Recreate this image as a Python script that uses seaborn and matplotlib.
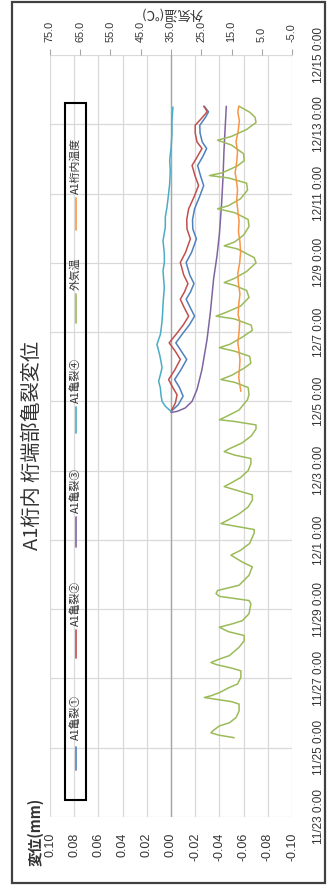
import matplotlib
matplotlib.use("Agg")
import matplotlib.pyplot as plt
import numpy as np
import pandas as pd
import seaborn as sns
from matplotlib.patches import Rectangle
from matplotlib.lines import Line2D

sns.set_theme(style="white")
plt.rcParams["font.family"] = ["Liberation Sans", "Noto Sans CJK JP", "DejaVu Sans"]

# ---- data (time in days from 11/23 0:00) ----
crack1_days = [11.71, 11.90, 12.15, 12.40, 12.63, 12.90, 13.21, 13.45, 13.69, 13.95, 14.20, 14.46,
               14.70, 14.95, 15.15, 15.40, 15.65, 16.01, 16.30, 16.69, 16.98, 17.25, 17.56, 17.90,
               18.23, 18.50, 18.81, 19.05, 19.30, 19.49, 19.75, 19.97, 20.20, 20.36, 20.45, 20.52]
crack1_mm = [0.000, -0.0060, -0.0100, -0.0070, -0.0030, -0.0080, -0.0130, -0.0085, -0.0040, -0.0095,
             -0.0150, -0.0195, -0.0160, -0.0125, -0.0160, -0.0190, -0.0155, -0.0125, -0.0170, -0.0210,
             -0.0180, -0.0178, -0.0195, -0.0235, -0.0270, -0.0245, -0.0220, -0.0260, -0.0295, -0.0258,
             -0.0240, -0.0238, -0.0285, -0.0310, -0.0290, -0.0275]

crack2_days = [11.71, 11.95, 12.19, 12.40, 12.63, 12.90, 13.21, 13.45, 13.69, 13.95, 14.20, 14.46,
               14.70, 14.95, 15.15, 15.40, 15.65, 16.01, 16.30, 16.69, 16.98, 17.25, 17.56, 17.90,
               18.23, 18.50, 18.81, 19.05, 19.30, 19.49, 19.75, 19.97, 20.20, 20.36, 20.45, 20.52]
crack2_mm = [0.000, -0.0036, -0.0050, -0.0015, 0.0020, -0.0030, -0.0077, -0.0035, 0.0015, -0.0045,
             -0.0100, -0.0146, -0.0110, -0.0077, -0.0110, -0.0140, -0.0105, -0.0077, -0.0120, -0.0160,
             -0.0132, -0.0130, -0.0146, -0.0190, -0.0228, -0.0200, -0.0174, -0.0215, -0.0256, -0.0215,
             -0.0200, -0.0200, -0.0260, -0.0298, -0.0285, -0.0270]

crack3_days = [11.68, 11.71, 11.81, 12.00, 12.34, 12.92, 13.79, 14.56, 15.53, 16.20, 16.83, 17.70,
               18.48, 19.25, 19.92, 20.52]
crack3_mm = [0.000, -0.0050, -0.0118, -0.0174, -0.0215, -0.0256, -0.0298, -0.0325, -0.0352, -0.0380,
             -0.0400, -0.0418, -0.0430, -0.0438, -0.0448, -0.0457]

crack4_days = [11.71, 11.86, 12.00, 12.19, 12.39, 12.58, 12.77, 12.97, 13.16, 13.35, 13.64, 13.79,
               13.93, 14.13, 14.32, 14.56, 14.80, 15.04, 15.29, 15.53, 15.77, 16.01, 16.25, 16.64,
               17.03, 17.32, 17.61, 17.99, 18.28, 18.67, 18.96, 19.34, 19.73, 20.12, 20.50]
crack4_mm = [0.000, 0.0047, 0.0074, 0.0083, 0.0088, 0.0102, 0.0088, 0.0074, 0.0083, 0.0094, 0.0116,
             0.0102, 0.0088, 0.0080, 0.0074, 0.0069, 0.0066, 0.0061, 0.0055, 0.0061, 0.0066, 0.0055,
             0.0055, 0.0066, 0.0047, 0.0047, 0.0033, 0.0020, 0.0011, 0.0006, 0.0011, -0.0001,
             -0.0008, -0.0008, -0.0016]

air_days = [2.29, 2.36, 2.43, 2.50, 2.63, 2.72, 2.87, 3.06, 3.26, 3.33, 3.45, 3.50, 3.59, 3.74, 3.84,
            4.03, 4.22, 4.30, 4.40, 4.46, 4.56, 4.66, 4.90, 5.09, 5.24, 5.35, 5.48, 5.58, 5.67, 5.87,
            6.16, 6.25, 6.37, 6.45, 6.54, 6.69, 6.98, 7.12, 7.22, 7.36, 7.56, 7.70, 7.90, 8.20, 8.30,
            8.40, 8.47, 8.58, 8.75, 8.95, 9.15, 9.30, 9.45, 9.54, 9.65, 9.80, 10.00, 10.20, 10.35,
            10.45, 10.55, 10.62, 10.80, 11.00, 11.20, 11.32, 11.42, 11.47, 11.55, 11.75, 12.05, 12.20,
            12.40, 12.55, 12.63, 12.75, 12.95, 13.10, 13.30, 13.45, 13.55, 13.65, 13.85, 14.05, 14.20,
            14.38, 14.46, 14.58, 14.75, 15.00, 15.20, 15.35, 15.43, 15.55, 15.75, 16.00, 16.15, 16.40,
            16.49, 16.60, 16.80, 17.05, 17.25, 17.45, 17.56, 17.65, 17.85, 18.10, 18.30, 18.45, 18.52,
            18.60, 18.80, 18.95, 19.15, 19.40, 19.54, 19.65, 19.85, 20.05, 20.20, 20.35, 20.52]
air_temp = [14.1, 19.0, 21.8, 21.0, 19.0, 15.7, 13.5, 12.5, 12.5, 15.0, 24.0, 21.8, 19.0, 15.7, 13.0,
            11.9, 11.9, 15.0, 20.0, 21.8, 19.0, 15.7, 12.5, 10.8, 10.8, 16.0, 19.0, 14.6, 11.4, 9.2,
            8.6, 9.2, 19.0, 20.1, 19.6, 12.5, 9.2, 8.6, 8.1, 11.4, 15.2, 12.0, 9.0, 7.5, 7.5,
            14.0, 18.5, 16.0, 12.5, 9.5, 8.1, 8.1, 14.0, 17.4, 15.0, 12.0, 9.5, 8.6, 8.6,
            14.0, 17.4, 16.0, 11.5, 8.5, 6.9, 6.9, 14.0, 19.0, 17.0, 12.5, 9.7, 9.2,
            9.5, 14.0, 18.5, 15.0, 11.0, 8.6, 9.0, 14.0, 19.0, 15.5, 11.5, 8.1, 8.5,
            14.0, 20.1, 16.5, 12.0, 9.2, 10.0, 14.0, 17.4, 14.0, 10.0, 6.9, 7.5, 13.0,
            17.4, 14.0, 11.0, 9.2, 9.5, 14.0, 19.6, 16.0, 12.0, 9.7, 10.0, 16.0, 22.3,
            18.0, 13.0, 10.8, 11.0, 15.0, 19.6, 15.0, 10.0, 6.9, 7.2, 9.0, 12.5]

girder_days = [12.29, 12.50, 12.70, 12.90, 13.20, 13.50, 13.70, 14.00, 14.30, 14.50, 14.80, 15.10,
               15.40, 15.70, 16.00, 16.30, 16.60, 16.90, 17.20, 17.50, 17.80, 18.10, 18.40, 18.60,
               18.90, 19.20, 19.50, 19.80, 20.10, 20.35, 20.52]
girder_temp = [11.9, 12.3, 12.6, 12.4, 12.2, 12.6, 12.9, 12.5, 12.3, 12.8, 12.6, 12.2, 12.7, 12.9,
               12.3, 12.0, 12.2, 12.7, 12.5, 12.9, 13.3, 13.0, 13.4, 13.8, 13.3, 13.0, 13.5, 12.8,
               12.4, 12.9, 12.6]

series_names = ["A1亀裂①", "A1亀裂②", "A1亀裂③", "A1亀裂④", "外気温", "A1桁内温度"]
series_colors = ["#4F81BD", "#C0504D", "#8064A2", "#4BACC6", "#9BBB59", "#F79646"]

disp_ticks = [0.10, 0.08, 0.06, 0.04, 0.02, 0.00, -0.02, -0.04, -0.06, -0.08, -0.10]
disp_labels = ["0.10", "0.08", "0.06", "0.04", "0.02", "0.00", "-0.02", "-0.04", "-0.06", "-0.08", "-0.10"]
temp_ticks = [75, 65, 55, 45, 35, 25, 15, 5, -5]
temp_labels = ["75.0", "65.0", "55.0", "45.0", "35.0", "25.0", "15.0", "5.0", "-5.0"]
date_ticks = [0, 2, 4, 6, 8, 10, 12, 14, 16, 18, 20, 22]
date_labels = ["11/23 0:00", "11/25 0:00", "11/27 0:00", "11/29 0:00", "12/1 0:00", "12/3 0:00",
               "12/5 0:00", "12/7 0:00", "12/9 0:00", "12/11 0:00", "12/13 0:00", "12/15 0:00"]

palette = dict(zip(series_names, series_colors))

disp_df = pd.concat([
    pd.DataFrame({"day": d, "value": v, "series": n})
    for d, v, n in [(crack1_days, crack1_mm, series_names[0]),
                    (crack2_days, crack2_mm, series_names[1]),
                    (crack3_days, crack3_mm, series_names[2]),
                    (crack4_days, crack4_mm, series_names[3])]
], ignore_index=True)
temp_df = pd.concat([
    pd.DataFrame({"day": air_days, "value": air_temp, "series": series_names[4]}),
    pd.DataFrame({"day": girder_days, "value": girder_temp, "series": series_names[5]}),
], ignore_index=True)

# ---- figure (chart laid out in portrait orientation) ----
W, H = 331, 891
fig = plt.figure(figsize=(W / 100, H / 100), dpi=100)
fig.patch.set_facecolor("white")

def fx(px):
    return px / W

def fy(py):
    return 1 - py / H

ax = fig.add_axes([fx(50), fy(817), (292 - 50) / W, (817 - 55) / H])
txt_col = "#333333"

sns.lineplot(data=disp_df, x="value", y="day", hue="series", palette=palette, orient="y",
             estimator=None, sort=False, legend=False, linewidth=1.1, ax=ax)

ax2 = ax.twiny()
sns.lineplot(data=temp_df, x="value", y="day", hue="series", palette=palette, orient="y",
             estimator=None, sort=False, legend=False, linewidth=1.1, ax=ax2)

# primary axes: displacement (horizontal) and date (vertical, labels on the right)
ax.set_xlim(0.10, -0.10)
ax.set_ylim(0, 22)
ax.set_xticks(disp_ticks, labels=disp_labels, rotation=90)
ax.set_yticks(date_ticks, labels=date_labels, rotation=90, va="center")
ax.yaxis.tick_right()
ax.grid(True, color="#D9D9D9", linewidth=0.9)
ax.set_axisbelow(True)
ax.axvline(0, color="#A6A6A6", linewidth=1.0, zorder=1)
ax.tick_params(axis="x", bottom=False, top=False, labelbottom=True, labeltop=False, pad=5,
               labelsize=9, colors=txt_col)
ax.tick_params(axis="y", left=False, right=False, labelleft=False, labelright=True, pad=9,
               labelsize=8.5, colors=txt_col)
ax.set_xlabel("")
ax.set_ylabel("")
for s in ax.spines.values():
    s.set_visible(False)

# secondary axis: temperature along the top
ax2.set_xlim(75, -5)
ax2.set_ylim(0, 22)
ax2.set_xticks(temp_ticks, labels=temp_labels, rotation=90)
ax2.tick_params(axis="x", top=True, bottom=False, labeltop=True, labelbottom=False,
                direction="out", length=4, width=0.8, color="#A6A6A6", labelcolor=txt_col,
                pad=5, labelsize=7.8)
ax2.tick_params(axis="y", left=False, right=False, labelleft=False, labelright=False)
ax2.grid(False)
ax2.set_xlabel("")
ax2.set_ylabel("")
for s in ax2.spines.values():
    s.set_visible(False)

# ---- titles ----
jp = ["Noto Sans CJK JP", "DejaVu Sans"]
fig.text(fx(32), fy(446), "A1桁内 桁端部亀裂変位", rotation=90, ha="center", va="center",
         fontsize=14.5, color=txt_col, family=jp)
fig.text(fx(35), fy(832), "変位(mm)", rotation=90, ha="center", va="center",
         fontsize=10.5, fontweight="bold", color=txt_col, family=jp)
fig.text(fx(172), fy(13), "外気温(℃)", rotation=180, ha="center", va="center",
         fontsize=9.5, color=txt_col, family=jp)

# ---- legend box ----
fig.add_artist(Rectangle((fx(65), fy(800)), (86 - 65) / W, (800 - 103) / H,
                         transform=fig.transFigure, fill=False, edgecolor="black", linewidth=1.5))
legend_slots = [(770, 747, 740), (658, 630, 626), (547, 517, 513),
                (433, 407, 403), (323, 294, 290), (230, 198, 194)]
for (l0, l1, t0), name, col in zip(legend_slots, series_names, series_colors):
    fig.add_artist(Line2D([fx(75.5), fx(75.5)], [fy(l0), fy(l1)], transform=fig.transFigure,
                          color=col, linewidth=1.2))
    fig.text(fx(75.5), fy(t0), name, rotation=90, ha="center", va="bottom", fontsize=7.8,
             color=txt_col, family=jp)

# ---- outer frame ----
fig.add_artist(Rectangle((fx(12), fy(883)), (325 - 12) / W, (883 - 2) / H,
                         transform=fig.transFigure, fill=False, edgecolor="#404040", linewidth=1.6))

fig.savefig("out.png", dpi=100, facecolor="white")
